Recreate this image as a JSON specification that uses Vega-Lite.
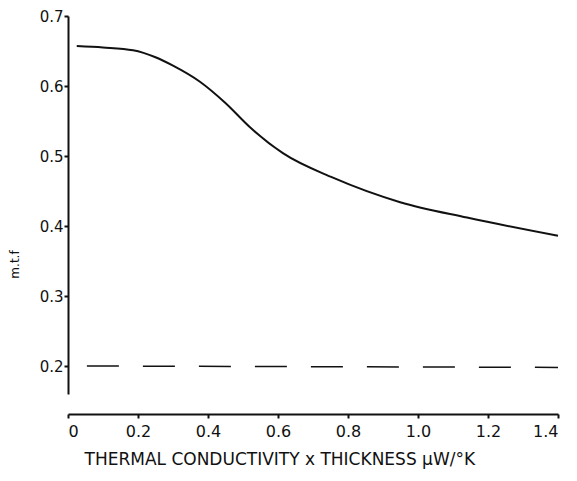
{
  "$schema": "https://vega.github.io/schema/vega-lite/v6.json",
  "width": 490,
  "height": 378,
  "autosize": {"type": "none"},
  "padding": {"left": 68, "top": 16, "right": 19, "bottom": 87},
  "background": "white",
  "config": {
    "view": {"stroke": null},
    "font": "DejaVu Sans",
    "axis": {
      "grid": false,
      "domainColor": "#111",
      "domainWidth": 2,
      "tickColor": "#111",
      "tickWidth": 2,
      "tickSize": 4,
      "labelColor": "#111",
      "labelFont": "DejaVu Sans",
      "labelFontSize": 15,
      "titleColor": "#111",
      "titleFont": "DejaVu Sans",
      "titleFontWeight": "normal"
    }
  },
  "datasets": {
    "curve": [
      {"x": 0.025, "y": 0.657},
      {"x": 0.1, "y": 0.655},
      {"x": 0.186, "y": 0.651},
      {"x": 0.25, "y": 0.641},
      {"x": 0.3, "y": 0.629},
      {"x": 0.377, "y": 0.606},
      {"x": 0.449, "y": 0.576},
      {"x": 0.52, "y": 0.541},
      {"x": 0.614, "y": 0.504},
      {"x": 0.757, "y": 0.469},
      {"x": 0.949, "y": 0.434},
      {"x": 1.14, "y": 0.412},
      {"x": 1.4, "y": 0.386}
    ],
    "dash": [
      {"x": 0.054, "y": 0.2},
      {"x": 1.4, "y": 0.198}
    ]
  },
  "layer": [
    {
      "data": {"name": "curve"},
      "mark": {"type": "line", "color": "#111", "strokeWidth": 2, "interpolate": "monotone"},
      "encoding": {
        "x": {
          "field": "x", "type": "quantitative",
          "scale": {"domain": [0, 1.4], "nice": false, "zero": false},
          "axis": {
            "values": [0, 0.2, 0.4, 0.6, 0.8, 1.0, 1.2, 1.4],
            "labelExpr": "datum.value == 0 ? '0' : format(datum.value, '.1f')",
            "labelFontSize": 16,
            "offset": 20,
            "labelPadding": 5,
            "title": "THERMAL CONDUCTIVITY x THICKNESS \u03bcW/\u00b0K",
            "titleFontSize": 17,
            "titleAnchor": "start",
            "titleX": 16,
            "titleY": 37
          }
        },
        "y": {
          "field": "y", "type": "quantitative",
          "scale": {"domain": [0.16, 0.7], "nice": false, "zero": false},
          "axis": {
            "values": [0.2, 0.3, 0.4, 0.5, 0.6, 0.7],
            "format": ".1f",
            "labelPadding": 1,
            "title": "m.t.f",
            "titleFontSize": 12,
            "titleX": -47,
            "titleY": 248,
            "titleAngle": 270
          }
        }
      }
    },
    {
      "data": {"name": "dash"},
      "mark": {"type": "line", "color": "#111", "strokeWidth": 1.5, "strokeDash": [32, 24]},
      "encoding": {
        "x": {"field": "x", "type": "quantitative"},
        "y": {"field": "y", "type": "quantitative"}
      }
    }
  ]
}
